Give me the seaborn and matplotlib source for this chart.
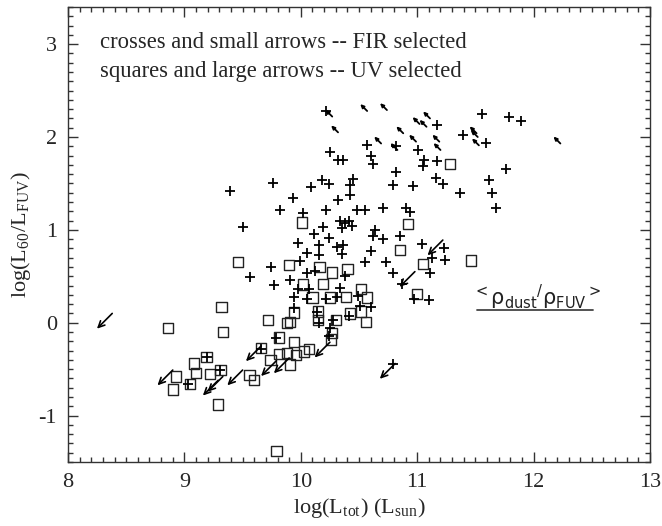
import numpy as np
import pandas as pd
import matplotlib
matplotlib.use("Agg")
import matplotlib.pyplot as plt
from matplotlib.ticker import MultipleLocator
import seaborn as sns

# FIR selected galaxies (crosses)
fir_x = [10.22, 10.25, 10.32, 10.36, 9.39, 9.76, 10.09, 10.18, 10.24, 9.93,
         10.32, 10.42, 10.45, 10.42, 9.82, 10.02, 10.22, 9.50, 10.19, 10.11,
         10.24, 10.16, 9.98, 10.31, 10.36, 10.34, 10.41, 10.38, 10.44, 10.35,
         10.48, 10.55, 10.57, 10.60, 10.62, 10.82, 11.01, 11.06, 11.05, 11.17,
         10.82, 11.16, 11.22, 10.79, 10.96, 10.71, 10.90, 10.94, 10.64, 10.62,
         10.71, 10.85, 11.04, 11.23, 11.13, 11.24, 11.11, 11.10, 10.97, 10.87,
         10.60, 10.55, 10.73, 10.79, 11.56, 11.79, 11.89, 11.17, 11.39, 11.59,
         11.76, 11.62, 11.37, 11.64, 11.68, 9.74, 9.56, 9.77, 9.91, 9.99,
         10.05, 10.16, 9.94, 9.94, 9.79, 9.19, 9.03, 10.35, 10.05, 10.12,
         10.38, 10.07, 10.34, 10.31, 10.22, 10.05, 10.49, 10.60, 10.51, 10.41,
         10.28, 10.16, 10.14, 10.24, 10.25, 10.79, 9.31, 9.66, 9.98]
fir_y = [2.28, 1.84, 1.75, 1.75, 1.42, 1.50, 1.46, 1.54, 1.49, 1.34,
         1.32, 1.48, 1.55, 1.37, 1.21, 1.18, 1.21, 1.03, 1.03, 0.96,
         0.91, 0.84, 0.86, 0.82, 0.84, 1.10, 1.10, 1.07, 1.04, 1.02,
         1.21, 1.21, 1.91, 1.80, 1.71, 1.90, 1.86, 1.75, 1.69, 1.74,
         1.62, 1.56, 1.49, 1.48, 1.47, 1.23, 1.24, 1.19, 1.00, 0.93,
         0.90, 0.93, 0.85, 0.80, 0.70, 0.67, 0.53, 0.24, 0.26, 0.42,
         0.77, 0.65, 0.65, 0.54, 2.25, 2.21, 2.17, 2.13, 2.02, 1.94,
         1.66, 1.54, 1.40, 1.40, 1.24, 0.60, 0.49, 0.41, 0.46, 0.66,
         0.75, 0.73, 0.28, 0.16, -0.16, -0.37, -0.66, 0.74, 0.53, 0.56,
         0.50, 0.36, 0.37, 0.28, 0.25, 0.25, 0.29, 0.17, 0.18, 0.07,
         0.03, 0.00, 0.11, -0.14, -0.06, -0.45, -0.51, -0.28, 0.36]

# FIR selected limits (small arrows)
fir_lim_x = [10.57, 10.74, 10.27, 10.32, 11.02, 11.08, 11.11, 10.88, 10.69,
             10.99, 11.19, 11.20, 10.83, 11.51, 11.52, 11.53, 12.23]
fir_lim_y = [2.28, 2.29, 2.22, 2.05, 2.14, 2.11, 2.20, 2.04, 1.93,
             1.95, 1.95, 1.86, 1.86, 2.04, 2.00, 1.91, 1.93]

# UV selected galaxies (squares)
uv_x = [9.46, 9.90, 10.16, 9.32, 8.86, 9.33, 9.72, 9.88, 9.91, 10.02,
        10.10, 10.15, 9.94, 9.81, 9.66, 9.94, 9.74, 9.81, 9.88, 9.96,
        9.91, 10.07, 9.56, 9.60, 9.19, 9.08, 9.10, 9.22, 9.31, 8.93,
        9.05, 8.90, 9.29, 10.27, 10.40, 10.19, 10.25, 10.39, 10.52, 10.57,
        10.30, 10.42, 10.52, 10.56, 10.15, 10.27, 10.26, 10.03, 10.85, 11.05,
        11.00, 11.46, 11.28, 10.01, 10.92, 9.79]
uv_y = [0.65, 0.62, 0.60, 0.17, -0.06, -0.10, 0.03, 0.00, 0.01, 0.41,
        0.27, 0.12, 0.11, -0.16, -0.27, -0.21, -0.40, -0.34, -0.33, -0.35,
        -0.45, -0.28, -0.56, -0.62, -0.37, -0.44, -0.54, -0.55, -0.51, -0.58,
        -0.66, -0.72, -0.88, 0.54, 0.58, 0.42, 0.27, 0.28, 0.36, 0.27,
        0.03, 0.10, 0.12, 0.01, 0.03, -0.11, -0.18, -0.31, 0.78, 0.63,
        0.31, 0.67, 1.71, 1.08, 1.06, -1.38]

# UV selected limits (large arrows)
uv_lim_x = [8.38, 8.90, 9.29, 9.33, 9.50, 9.66, 9.79, 9.90, 10.25, 11.22, 10.98, 10.81]
uv_lim_y = [0.10, -0.51, -0.62, -0.58, -0.51, -0.25, -0.41, -0.38, -0.21, 0.89, 0.55, -0.44]

notes = ["crosses and small arrows -- FIR selected",
         "squares and large arrows -- UV selected"]
ratio_label = r"$^{<}\mathrm{ρ}_{\mathrm{dust}}{}^{/}\mathrm{ρ}_{\mathrm{FUV}}{}^{>}$"
ratio_line_x = [11.51, 12.51]
ratio_line_y = [0.14, 0.14]

sns.set_style("ticks")
plt.rcParams["font.family"] = ["Liberation Serif", "DejaVu Serif"]
plt.rcParams["mathtext.fontset"] = "stix"
plt.rcParams["axes.unicode_minus"] = False

fir = pd.DataFrame({"x": fir_x, "y": fir_y})
uv = pd.DataFrame({"x": uv_x, "y": uv_y})

fig = plt.figure(figsize=(6.62, 5.26), dpi=100)
ax = fig.add_axes([0.1027, 0.1217, 0.8792, 0.865])

sns.scatterplot(data=uv, x="x", y="y", marker="s", s=55, facecolor="none",
                edgecolor="#222222", linewidth=1.0, legend=False, ax=ax, zorder=3)
sns.scatterplot(data=fir, x="x", y="y", marker="+", s=60, color="black",
                linewidth=1.3, legend=False, ax=ax, zorder=4)

# large arrows (UV upper limits) point down-left
for x, y in zip(uv_lim_x, uv_lim_y):
    ax.annotate("", xy=(x, y), xytext=(-11, -11), textcoords="offset points",
                arrowprops=dict(arrowstyle="<-,head_length=0.45,head_width=0.22",
                                color="black", lw=1.2, shrinkA=0, shrinkB=0,
                                mutation_scale=10))
# small arrows (FIR limits) point up-left
for x, y in zip(fir_lim_x, fir_lim_y):
    ax.annotate("", xy=(x, y), xytext=(-5, 5), textcoords="offset points",
                arrowprops=dict(arrowstyle="<|-,head_length=0.25,head_width=0.12",
                                color="black", lw=1.3, shrinkA=0, shrinkB=0,
                                mutation_scale=8))

ax.set_xlim(8, 13)
ax.set_ylim(-1.5, 3.4)
ax.xaxis.set_major_locator(MultipleLocator(1))
ax.xaxis.set_minor_locator(MultipleLocator(0.1))
ax.yaxis.set_major_locator(MultipleLocator(1))
ax.yaxis.set_minor_locator(MultipleLocator(0.1))
ax.tick_params(which="both", direction="in", top=True, right=True,
               color="#333333", width=1.0, labelsize=16)
ax.tick_params(which="major", length=7, pad=8)
ax.tick_params(which="minor", length=3.5)
for sp in ax.spines.values():
    sp.set_color("#333333")
    sp.set_linewidth(1.0)

ax.set_xlabel(r"log(L$_{\mathregular{tot}}$) (L$_{\mathregular{sun}}$)", fontsize=16, labelpad=3)
ax.set_ylabel(r"log(L$_{\mathregular{60}}$/L$_{\mathregular{FUV}}$)", fontsize=16, labelpad=4)

ax.text(0.055, 0.922, notes[0], transform=ax.transAxes, fontsize=16.3, va="center")
ax.text(0.055, 0.858, notes[1], transform=ax.transAxes, fontsize=16.3, va="center")

ax.text(12.03, 0.27, ratio_label, fontsize=15, ha="center", va="center",
        math_fontfamily="dejavusans", color="#222222")
ax.plot(ratio_line_x, ratio_line_y, color="#444444", lw=1.3)

fig.savefig("out.png", dpi=100)
